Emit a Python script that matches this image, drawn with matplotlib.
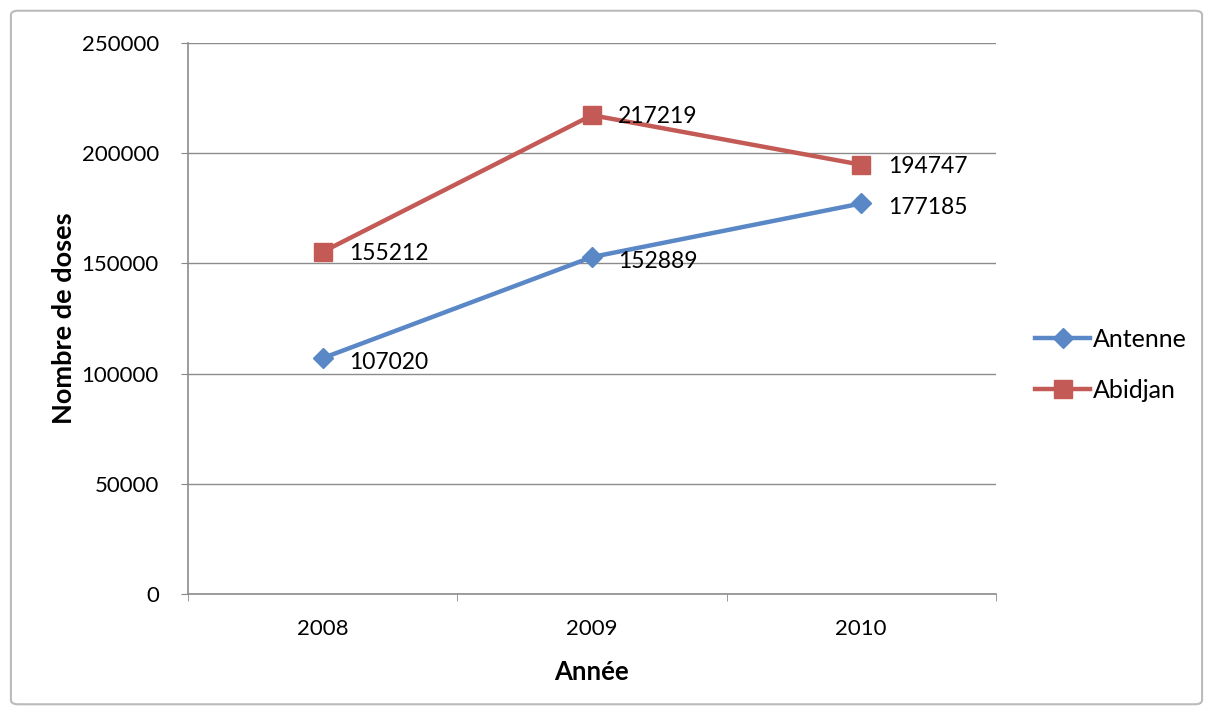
import matplotlib.pyplot as plt
from matplotlib.patches import FancyBboxPatch

plt.rcParams["font.family"] = ["Lato", "DejaVu Sans"]

years = ["2008", "2009", "2010"]
antenne = [107020, 152889, 177185]
abidjan = [155212, 217219, 194747]
y_ticks = [0, 50000, 100000, 150000, 200000, 250000]

BLUE = "#5A87C6"
RED = "#C45A55"

fig = plt.figure(figsize=(12.13, 7.15), dpi=100)
fig.patches.append(FancyBboxPatch((0.009, 0.015), 0.982, 0.97, boxstyle="round,pad=0,rounding_size=0.006",
                                  transform=fig.transFigure, fill=False, edgecolor="#BBBBBB", linewidth=1.5))
ax = fig.add_axes([0.155, 0.169, 0.666, 0.771])

x = list(range(len(years)))
ax.plot(x, antenne, color=BLUE, linewidth=3.2, marker="D", markersize=10, label="Antenne", zorder=3)
ax.plot(x, abidjan, color=RED, linewidth=3.2, marker="s", markersize=13, label="Abidjan", zorder=3)

for xi, v in zip(x, antenne):
    ax.annotate(str(v), (xi, v), xytext=(19, -3), textcoords="offset points", va="center", fontsize=16.5)
for xi, v in zip(x, abidjan):
    ax.annotate(str(v), (xi, v), xytext=(19, -1), textcoords="offset points", va="center", fontsize=16.5)

ax.set_xlim(-0.5, 2.5)
ax.set_ylim(0, 250000)
ax.set_yticks(y_ticks)
ax.set_yticklabels([str(t) for t in y_ticks], fontsize=16)
ax.set_xticks(x)
ax.set_xticklabels(years, fontsize=16)
ax.set_xticks([-0.5, 0.5, 1.5, 2.5], minor=True)
ax.tick_params(axis="x", which="major", length=0, pad=18)
ax.tick_params(axis="x", which="minor", length=5, color="#888888", direction="out")
ax.tick_params(axis="y", length=5, color="#888888", direction="out", pad=16)

ax.grid(axis="y", color="#8C8C8C", linewidth=1)
ax.set_axisbelow(True)
for s in ["top", "right"]:
    ax.spines[s].set_visible(False)
for s in ["left", "bottom"]:
    ax.spines[s].set_color("#8C8C8C")
    ax.spines[s].set_linewidth(1.2)

ax.set_xlabel("Année", fontsize=18.5, fontweight="bold", labelpad=15)
ax.set_ylabel("Nombre de doses", fontsize=19.5, fontweight="bold", labelpad=4)

ax.legend(loc="center left", bbox_to_anchor=(1.021, 0.416), frameon=False, fontsize=18,
          handlelength=2.2, labelspacing=1.1, handletextpad=0.1, borderpad=0.4)

fig.savefig("out.png", dpi=100)
